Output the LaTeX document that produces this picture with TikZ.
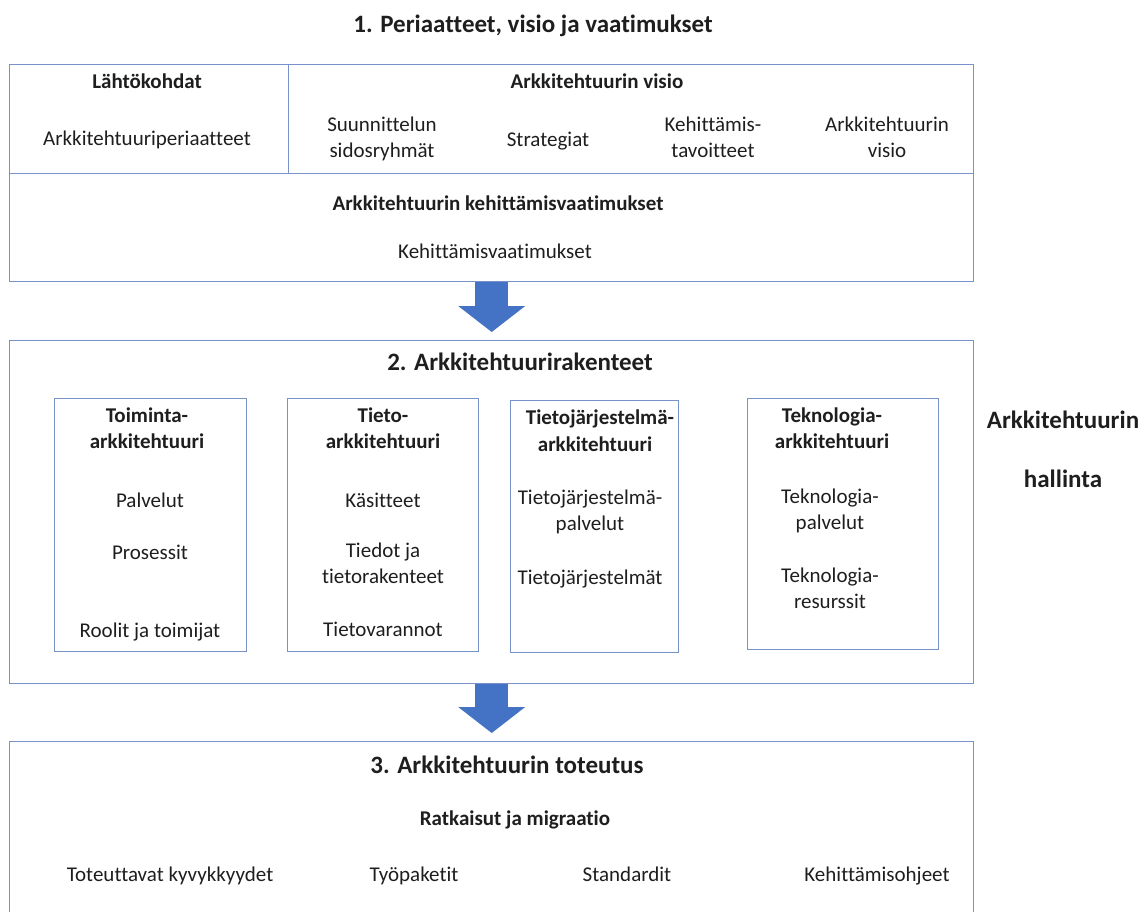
\documentclass[tikz,border=0pt]{standalone}
\usepackage{fontspec}
\setmainfont{Carlito}[Ligatures={NoCommon}]
\usetikzlibrary{arrows.meta}
\definecolor{frame}{RGB}{120,146,202}
\definecolor{arrowblue}{RGB}{68,114,196}
\definecolor{ink}{RGB}{30,30,30}
\begin{document}
\begin{tikzpicture}[x=1pt,y=-1pt,
  framebox/.style={draw=frame, line width=1.4pt, inner sep=0pt, anchor=north west},
  txt/.style={text=ink, font=\fontsize{21}{26}\selectfont, align=center, inner sep=0pt,
    yshift=-2pt, execute at begin node=\strut, execute at end node=\strut},
  head/.style={txt, font=\fontsize{21}{26}\selectfont\bfseries},
  title/.style={txt, font=\fontsize{25}{30}\selectfont\bfseries},
  flow/.style={draw=arrowblue, line width=33pt,
    -{Triangle[length=26pt, width=67pt, line width=0pt]}, shorten >=8pt}
]
\useasboundingbox (0,0) rectangle (1148,911);

% --- 1. principles, vision and requirements
\node[title] (t1) at (533,24) {1. Periaatteet, visio ja vaatimukset};
\node[framebox, minimum width=279pt, minimum height=109pt] (lahto) at (9,64) {};
\node[framebox, minimum width=685pt, minimum height=109pt] (visio) at (288,64) {};
\node[framebox, minimum width=964pt, minimum height=108pt] (vaat) at (9,173) {};
\node[framebox, minimum width=964pt, minimum height=217pt] (b1) at (9,64) {};

\node[head] (h-lahto) at (147,81) {Lähtökohdat};
\node[txt] (periaat) at (147,138) {Arkkitehtuuriperiaatteet};
\node[head] (h-visio) at (597,81) {Arkkitehtuurin visio};
\node[txt] (sidos) at (382,139) {Suunnittelun\\sidosryhmät};
\node[txt] (strat) at (548,139) {Strategiat};
\node[txt] (tavoit) at (713,139) {Kehittämis-\\tavoitteet};
\node[txt] (avisio) at (887,139) {Arkkitehtuurin\\visio};
\node[head] (h-vaat) at (498,203) {Arkkitehtuurin kehittämisvaatimukset};
\node[txt] (kvaat) at (495,251) {Kehittämisvaatimukset};

% --- 2. architecture structures
\node[framebox, minimum width=964pt, minimum height=343pt] (b2) at (9,340) {};
\node[title] (t2) at (520,362) {2. Arkkitehtuurirakenteet};

\node[framebox, minimum width=192pt, minimum height=253pt] (toim) at (54,398) {};
\node[framebox, minimum width=191pt, minimum height=253pt] (tieto) at (287,398) {};
\node[framebox, minimum width=168pt, minimum height=252pt] (tj) at (510,400) {};
\node[framebox, minimum width=191pt, minimum height=251pt] (tekn) at (747,398) {};

\node[head] (h-toim) at (147,430.5) {Toiminta-\\arkkitehtuuri};
\node[txt] (palv) at (150,500) {Palvelut};
\node[txt] (pros) at (150,552) {Prosessit};
\node[txt] (rool) at (150,630) {Roolit ja toimijat};

\node[head] (h-tieto) at (383,430.5) {Tieto-\\arkkitehtuuri};
\node[txt] (kasit) at (383,500) {Käsitteet};
\node[txt] (tiedot) at (383,565) {Tiedot ja\\tietorakenteet};
\node[txt] (varan) at (383,629) {Tietovarannot};

\node[head] (h-tj1) at (600,417) {Tietojärjestelmä-};
\node[head] (h-tj2) at (595,444) {arkkitehtuuri};
\node[txt] (tjpalv) at (590,512.5) {Tietojärjestelmä-\\palvelut};
\node[txt] (tjt) at (590,577) {Tietojärjestelmät};

\node[head] (h-tekn) at (832,430) {Teknologia-\\arkkitehtuuri};
\node[txt] (tkpalv) at (830,511) {Teknologia-\\palvelut};
\node[txt] (tkres) at (830,590) {Teknologia-\\resurssit};

\node[title] (hall1) at (1063,420) {Arkkitehtuurin};
\node[title] (hall2) at (1063,479) {hallinta};

% --- 3. implementation
\node[framebox, minimum width=964pt, minimum height=220pt] (b3) at (9,741) {};
\node[title] (t3) at (507,765) {3. Arkkitehtuurin toteutus};
\node[head] (ratk) at (515,818) {Ratkaisut ja migraatio};
\node[txt] (kyky) at (170,874) {Toteuttavat kyvykkyydet};
\node[txt] (tyop) at (414,874) {Työpaketit};
\node[txt] (stand) at (627,874) {Standardit};
\node[txt] (ohje) at (877,874) {Kehittämisohjeet};

% --- flow between the phases
\draw[flow] (b1.south) -- (b2.north);
\draw[flow] (b2.south) -- (b3.north);
\end{tikzpicture}
\end{document}
